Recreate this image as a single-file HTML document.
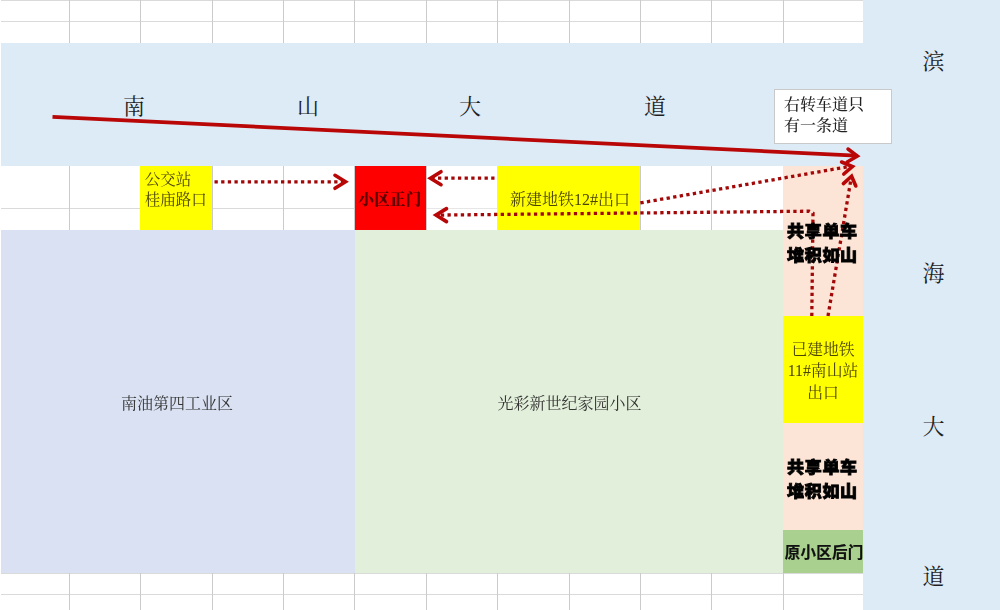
<!DOCTYPE html>
<html lang="zh-CN">
<head>
<meta charset="utf-8">
<title>南山大道 滨海大道 示意图</title>
<style>
html,body{margin:0;padding:0;}
body{width:1000px;height:610px;position:relative;overflow:hidden;background:#fff;
  font-family:"Liberation Serif","Noto Serif CJK SC",serif;}
.b{position:absolute;box-sizing:border-box;}
.t{position:absolute;white-space:nowrap;line-height:1;color:#222;}
.hl{position:absolute;height:1px;background:#dadada;left:1px;width:862px;}
.vl{position:absolute;width:1px;background:#cbcbcb;}
.road{font-size:22px;color:#1f1f1f;width:40px;text-align:center;}
.c{text-align:center;}
.y{color:#4d4600;font-size:15.5px;font-weight:400;}
.heavy{font-family:"Liberation Sans","Noto Sans CJK SC",sans-serif;font-weight:900;font-size:17px;letter-spacing:0.7px;color:#000;line-height:25.2px;text-align:center;width:84px;left:780.4px;-webkit-text-stroke:0.9px #000;transform:scaleY(0.94);z-index:3;}
svg{position:absolute;left:0;top:0;}
#wrap{position:absolute;left:0;top:0;width:1000px;height:610px;filter:blur(0.35px);}
</style>
</head>
<body>
<div id="wrap">
<!-- grid lines -->
<div class="hl" style="top:0"></div>
<div class="hl" style="top:21px"></div>
<div class="hl" style="top:208px;width:353px"></div>
<div class="hl" style="top:208px;left:426px;width:72px;background:#e6e6e6"></div>
<div class="hl" style="top:573px"></div>
<div class="hl" style="top:594px"></div>

<!-- top rows vertical lines -->
<div class="vl" style="left:69px;top:-6px;height:622px"></div>
<div class="vl" style="left:140px;top:-6px;height:622px"></div>
<div class="vl" style="left:212px;top:-6px;height:622px"></div>
<div class="vl" style="left:283px;top:-6px;height:622px"></div>
<div class="vl" style="left:354px;top:-6px;height:622px"></div>
<div class="vl" style="left:426px;top:-6px;height:622px"></div>
<div class="vl" style="left:497px;top:-6px;height:622px"></div>
<div class="vl" style="left:569px;top:-6px;height:622px"></div>
<div class="vl" style="left:640px;top:-6px;height:622px"></div>
<div class="vl" style="left:711px;top:-6px;height:622px"></div>
<div class="vl" style="left:783px;top:-6px;height:622px"></div>

<!-- colour blocks -->
<div class="b" style="left:1px;top:42.6px;width:862px;height:123.1px;background:#ddebf7"></div>
<div class="b" style="left:862.6px;top:-6px;width:146px;height:622px;background:#ddebf7"></div>
<div class="b" style="left:1px;top:230.4px;width:353.5px;height:342.8px;background:#d9e1f2"></div>
<div class="b" style="left:354.5px;top:230.4px;width:428.5px;height:342.8px;background:#e2efda"></div>
<div class="b" style="left:783px;top:165.7px;width:80px;height:365px;background:#fce4d6"></div>
<div class="b" style="left:783px;top:530px;width:80px;height:43.2px;background:#a9d08e"></div>
<div class="b" style="left:140.4px;top:165.7px;width:71.8px;height:64.8px;background:#ffff00"></div>
<div class="b" style="left:354.5px;top:165.7px;width:71.8px;height:64.8px;background:#ff0000"></div>
<div class="b" style="left:497.4px;top:165.7px;width:142.8px;height:64.8px;background:#ffff00"></div>
<div class="b" style="left:783.4px;top:316px;width:80px;height:106.6px;background:#ffff00"></div>
<div class="b" style="left:774px;top:89px;width:118px;height:55px;background:#fff;border:1px solid #c9c9c9"></div>

<!-- road names -->
<div class="t road" style="left:114px;top:96.3px">南</div>
<div class="t road" style="left:288px;top:96.3px">山</div>
<div class="t road" style="left:450px;top:96.3px">大</div>
<div class="t road" style="left:635px;top:96.3px">道</div>
<div class="t road" style="left:913.5px;top:51px">滨</div>
<div class="t road" style="left:913.5px;top:263px">海</div>
<div class="t road" style="left:913.5px;top:416px">大</div>
<div class="t road" style="left:913.5px;top:566px">道</div>

<!-- labels -->
<div class="t" style="left:784px;top:94.2px;font-size:16px;line-height:21px;color:#222;font-weight:500">右转车道只<br>有一条道</div>
<div class="t y" style="left:144.8px;top:169.5px;line-height:20px">公交站<br>桂庙路口</div>
<div class="t" style="left:354px;top:192px;width:72px;text-align:center;font-size:15.5px;letter-spacing:0.3px;font-weight:900;color:#5c0000">小区正门</div>
<div class="t y c" style="left:498.6px;top:192.4px;width:143px;font-size:16px">新建地铁12#出口</div>
<div class="t c" style="left:0;top:395.8px;width:354px;font-size:16px;color:#333">南油第四工业区</div>
<div class="t c" style="left:355px;top:396px;width:429px;font-size:16px;color:#333">光彩新世纪家园小区</div>
<div class="t y c" style="left:783px;top:339.2px;width:80px;line-height:21.2px;font-size:15.8px">已建地铁<br>11#南山站<br>出口</div>
<div class="t heavy" style="top:219px">共享单车<br>堆积如山</div>
<div class="t heavy" style="top:455px">共享单车<br>堆积如山</div>
<div class="t c" style="left:784.2px;top:545px;width:80px;font-family:'Liberation Sans','Noto Sans CJK SC',sans-serif;font-weight:bold;font-size:15.5px;letter-spacing:0.3px;color:#111;-webkit-text-stroke:0.2px #111">原小区后门</div>

<!-- arrows -->
<svg width="1000" height="610" viewBox="0 0 1000 610" fill="none" stroke="#b90606" stroke-linecap="butt">
  <line x1="52.5" y1="116.8" x2="856" y2="155.6" stroke-width="3.7"/>
  <polyline points="848,149 857.4,156 847.2,162" stroke-width="3.5" stroke-linejoin="miter" stroke-linecap="round"/>
  <g stroke-width="3.3" stroke-dasharray="3.3 3.35" stroke="#a30808">
    <line x1="214.5" y1="181.8" x2="344" y2="181.8"/>
    <line x1="494.5" y1="178.2" x2="432" y2="178.2"/>
    <line x1="640.4" y1="202.9" x2="850" y2="166.4"/>
    <polyline points="811.8,316 813,213.2 809,211.2 437,215.1"/>
    <line x1="828" y1="316" x2="851" y2="179"/>
  </g>
  <g stroke-width="3.6" stroke-linecap="round" stroke-linejoin="miter">
    <polyline points="335,175.3 345.5,181.8 335,188.3"/>
    <polyline points="441,171.7 430.5,178.2 441,184.7"/>
    <polyline points="446.5,208.6 436,215.1 446.5,221.6"/>
    <polyline points="841.6,162 852.4,166.6 843.8,174"/>
    <polyline points="843.4,183.6 851.6,176.2 855.8,186"/>
  </g>
</svg>
</div>
</body>
</html>
